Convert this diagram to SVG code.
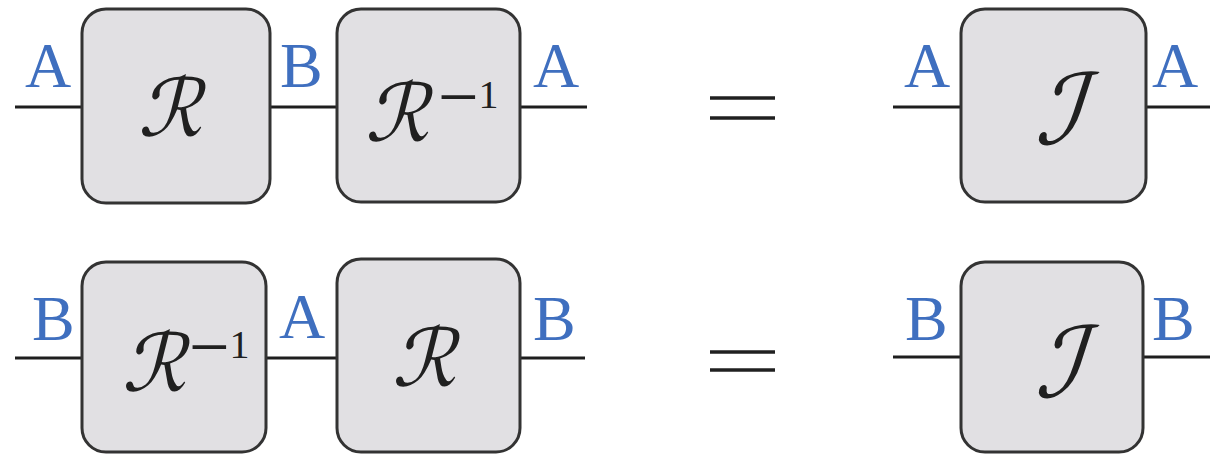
<svg xmlns="http://www.w3.org/2000/svg" width="1210" height="456" viewBox="0 0 1210 456">
<style>
.box{fill:#e1e0e3;stroke:#333333;stroke-width:3}
.wire{stroke:#1e1e1e;stroke-width:3;fill:none}
.lbl{font-family:"Liberation Serif",serif;font-size:64px;fill:#3f6fbf}
.op{font-family:"DejaVu Sans",sans-serif;font-size:80px;fill:#202020}
.opI{font-family:"DejaVu Sans",sans-serif;font-size:98px;fill:#202020}
.sup{font-family:"Liberation Serif",serif;font-size:40px;fill:#202020}
.minus{font-size:72px}
.eq{stroke:#202020;stroke-width:3.5}
</style>
<rect width="1210" height="456" fill="#ffffff"/>
<g id="connectors">
<line class="wire" x1="15" y1="107" x2="82" y2="107"/>
<line class="wire" x1="270" y1="107" x2="337" y2="107"/>
<line class="wire" x1="520" y1="107" x2="587" y2="107"/>
<line class="wire" x1="893" y1="107" x2="961" y2="107"/>
<line class="wire" x1="1146" y1="107" x2="1210" y2="107"/>
<line class="wire" x1="15" y1="358" x2="82" y2="358"/>
<line class="wire" x1="266" y1="358" x2="337" y2="358"/>
<line class="wire" x1="520" y1="358" x2="585" y2="358"/>
<line class="wire" x1="893" y1="357" x2="961" y2="357"/>
<line class="wire" x1="1143" y1="357" x2="1210" y2="357"/>
</g>
<g id="node-R-top">
<rect class="box" x="82" y="9" width="188" height="194" rx="24"/>
<text class="op" transform="translate(170,136) skewX(-14)" text-anchor="middle">ℛ</text>
</g>
<g id="node-Rinv-top">
<rect class="box" x="337" y="9" width="183" height="193" rx="24"/>
<text class="op" transform="translate(397,141) skewX(-14)" text-anchor="middle">ℛ</text>
<text class="sup" x="438" y="108"><tspan class="minus" dy="13">−</tspan><tspan dy="-13">1</tspan></text>
</g>
<g id="node-I-top">
<rect class="box" x="961" y="9" width="185" height="193" rx="24"/>
<text class="opI" transform="translate(1057,144) skewX(-18)" text-anchor="middle">ℐ</text>
</g>
<g id="node-Rinv-bottom">
<rect class="box" x="82" y="262" width="184" height="190" rx="24"/>
<text class="op" transform="translate(154,391) skewX(-14)" text-anchor="middle">ℛ</text>
<text class="sup" x="189" y="358"><tspan class="minus" dy="13">−</tspan><tspan dy="-13">1</tspan></text>
</g>
<g id="node-R-bottom">
<rect class="box" x="337" y="259" width="183" height="193" rx="24"/>
<text class="op" transform="translate(424,386) skewX(-14)" text-anchor="middle">ℛ</text>
</g>
<g id="node-I-bottom">
<rect class="box" x="961" y="262" width="182" height="190" rx="24"/>
<text class="opI" transform="translate(1057,397) skewX(-18)" text-anchor="middle">ℐ</text>
</g>
<g id="labels">
<text class="lbl" x="25" y="87">A</text>
<text class="lbl" x="280" y="87">B</text>
<text class="lbl" x="533" y="87">A</text>
<text class="lbl" x="904" y="87">A</text>
<text class="lbl" x="1152" y="87">A</text>
<text class="lbl" x="32" y="340">B</text>
<text class="lbl" x="279" y="338">A</text>
<text class="lbl" x="533" y="340">B</text>
<text class="lbl" x="905" y="340">B</text>
<text class="lbl" x="1152" y="340">B</text>
</g>
<g id="equals">
<line class="eq" x1="710" y1="98" x2="775" y2="98"/>
<line class="eq" x1="710" y1="118" x2="775" y2="118"/>
<line class="eq" x1="710" y1="352" x2="775" y2="352"/>
<line class="eq" x1="710" y1="370" x2="775" y2="370"/>
</g>
</svg>
